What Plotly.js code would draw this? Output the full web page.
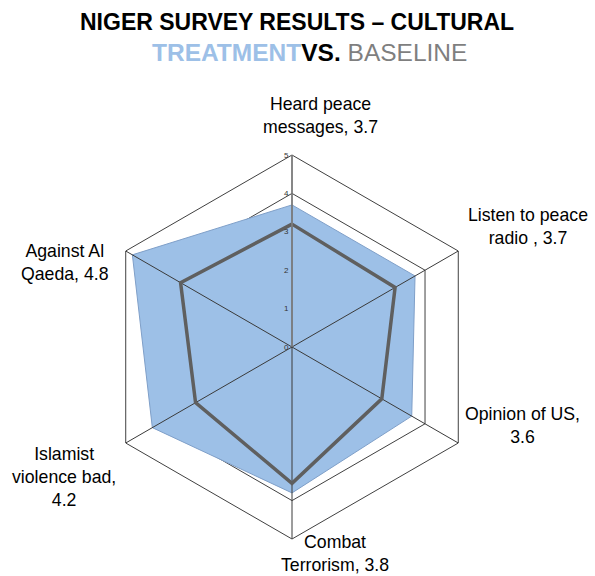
<!DOCTYPE html>
<html>
<head>
<meta charset="utf-8">
<script src="https://cdn.plot.ly/plotly-3.0.1.min.js"></script>
<style>html,body{margin:0;padding:0;background:#fff;}#chart{width:595px;height:576px;}</style>
</head>
<body>
<div id="chart"></div>
<script>
const categories = ["Heard peace messages", "Listen to peace radio ", "Opinion of US", "Combat Terrorism", "Islamist violence bad", "Against Al Qaeda"];
const labelTexts = ["Heard peace<br>messages, 3.7", "Listen to peace<br>radio , 3.7", "Opinion of US,<br>3.6", "Combat<br>Terrorism, 3.8", "Islamist<br>violence bad,<br>4.2", "Against Al<br>Qaeda, 4.8"];
const treatment = [3.7, 3.7, 3.6, 3.8, 4.2, 4.8];
const baseline = [3.2, 3.1, 2.7, 3.55, 2.9, 3.35];
const radialTicks = [0, 1, 2, 3, 4, 5];
const titleLine1 = "NIGER SURVEY RESULTS – CULTURAL";
const titleLine2 = ["TREATMENT", "VS.", "BASELINE"];

// label centres in pixels (layout only)
const labelPos = [[320, 115], [528, 226], [522, 425], [335, 553], [64, 477], [65, 262]];

const W = 595, H = 576;
const FONT = 'Liberation Sans, Arial, sans-serif';
const close = a => a.concat([a[0]]);

const traces = [];
traces.push({
  type: 'scatterpolar', r: close(treatment), theta: close(categories),
  mode: 'lines', fill: 'toself', fillcolor: '#9DC0E7',
  line: {color: '#7F9FC8', width: 1}, hoverinfo: 'skip', showlegend: false
});
categories.forEach(c => {
  traces.push({
    type: 'scatterpolar', r: [radialTicks[0], radialTicks[radialTicks.length - 1]], theta: [c, c],
    mode: 'lines', line: {color: '#3a3a3a', width: 1}, hoverinfo: 'skip', showlegend: false
  });
});
traces.push({
  type: 'scatterpolar', r: close(baseline), theta: close(categories),
  mode: 'lines', line: {color: '#5f5f5f', width: 3.5}, hoverinfo: 'skip', showlegend: false
});

const annotations = labelTexts.map((t, i) => ({
  text: t, xref: 'paper', yref: 'paper',
  x: labelPos[i][0] / W, y: 1 - labelPos[i][1] / H,
  xanchor: 'center', yanchor: 'middle', align: 'center', showarrow: false,
  font: {family: FONT, size: 17.7, color: '#000'}
}));
annotations.push({
  text: '<b>' + titleLine1 + '</b>', xref: 'paper', yref: 'paper',
  x: 297 / W, y: 1 - 22 / H, xanchor: 'center', yanchor: 'middle', showarrow: false,
  font: {family: FONT, size: 23, color: '#000'}
});
annotations.push({
  text: '<b><span style="color:#9DC0E7">' + titleLine2[0] + '</span>' + titleLine2[1] + '</b> <span style="color:#7f7f7f">' + titleLine2[2] + '</span>',
  xref: 'paper', yref: 'paper',
  x: 309 / W, y: 1 - 52 / H, xanchor: 'center', yanchor: 'middle', showarrow: false,
  font: {family: FONT, size: 24.5, color: '#000'}
});

const cx = 292, cy = 347, R = 192;
const layout = {
  width: W, height: H,
  margin: {l: 0, r: 0, t: 0, b: 0},
  paper_bgcolor: '#fff', plot_bgcolor: '#fff',
  showlegend: false,
  polar: {
    domain: {x: [(cx - R) / W, (cx + R) / W], y: [1 - (cy + R) / H, 1 - (cy - R) / H]},
    bgcolor: '#fff',
    gridshape: 'linear',
    radialaxis: {
      range: [0, 5], tickvals: radialTicks, ticktext: radialTicks.map(String),
      angle: 90, side: 'counterclockwise', tickangle: 90,
      showline: true, linecolor: '#808080', linewidth: 1.5,
      showgrid: true, gridcolor: '#404040', gridwidth: 1,
      ticks: '', tickfont: {family: FONT, size: 8, color: '#333'},
      layer: 'above traces'
    },
    angularaxis: {
      type: 'category', categoryarray: categories,
      rotation: 90, direction: 'clockwise',
      showline: true, linecolor: '#404040', linewidth: 1,
      showgrid: false, showticklabels: false, ticks: ''
    }
  },
  annotations: annotations
};

Plotly.newPlot('chart', traces, layout, {staticPlot: true, displayModeBar: false});
</script>
</body>
</html>
